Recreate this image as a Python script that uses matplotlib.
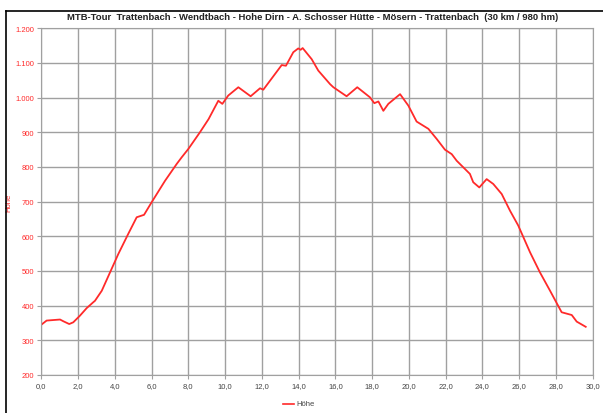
import matplotlib
matplotlib.use("Agg")
import matplotlib.pyplot as plt
from matplotlib.lines import Line2D
from matplotlib.ticker import FuncFormatter, MultipleLocator

# distance (km) and elevation (m)
km = [0.0, 0.29, 1.02, 1.2, 1.52, 1.74, 2.1, 2.47, 2.83, 2.92, 3.29, 3.74,
      4.19, 4.73, 5.19, 5.59, 6.0, 6.73, 7.37, 7.64, 8.0, 8.63, 9.1, 9.63,
      9.85, 10.17, 10.72, 11.39, 11.9, 12.08, 13.08, 13.31, 13.71, 13.98,
      14.11, 14.22, 14.71, 15.07, 15.71, 15.89, 16.61, 17.19, 17.88, 18.12,
      18.34, 18.61, 18.88, 19.52, 19.97, 20.42, 21.06, 21.51, 21.96, 22.33,
      22.6, 22.96, 23.32, 23.5, 23.83, 24.23, 24.59, 25.05, 25.5, 25.95,
      26.59, 27.13, 27.68, 28.31, 28.86, 29.13, 29.62]
hoehe = [345, 357, 360, 355, 347, 352, 371, 393, 410, 414, 443, 496,
         549, 607, 655, 662, 698, 760, 809, 828, 852, 900, 938, 991,
         982, 1006, 1030, 1004, 1027, 1023, 1094, 1092, 1131, 1142,
         1138, 1143, 1111, 1078, 1039, 1030, 1004, 1030, 1001, 984,
         989, 962, 982, 1010, 977, 931, 910, 881, 850, 837,
         818, 799, 780, 756, 741, 765, 751, 722, 674, 631,
         554, 496, 443, 381, 373, 354, 339]

title = "MTB-Tour  Trattenbach - Wendtbach - Hohe Dirn - A. Schosser Hütte - Mösern - Trattenbach  (30 km / 980 hm)"
RED = "#ff2a2a"
GRID = "#a0a0a0"
plt.rcParams["font.family"] = ["Liberation Sans", "DejaVu Sans"]

fig = plt.figure(figsize=(6.03, 4.14), dpi=100)
ax = fig.add_axes([41.3 / 603, 38 / 414, 551.4 / 603, 346.7 / 414])

ax.plot(km, hoehe, color=RED, lw=1.3)
ax.set_xlim(0, 30)
ax.set_ylim(200, 1200)
ax.xaxis.set_major_locator(MultipleLocator(2))
ax.yaxis.set_major_locator(MultipleLocator(100))
ax.xaxis.set_major_formatter(FuncFormatter(lambda v, p: f"{v:.1f}".replace(".", ",")))
ax.yaxis.set_major_formatter(FuncFormatter(lambda v, p: f"{int(v):,}".replace(",", ".")))
ax.grid(True, color=GRID, lw=1.0)
for s in ax.spines.values():
    s.set_color(GRID)
ax.tick_params(axis="both", length=3, color=GRID, labelsize=5.5, pad=2)
ax.tick_params(axis="y", labelcolor=RED)
ax.tick_params(axis="x", labelcolor="#444444")
ax.set_ylabel("Höhe", color=RED, fontsize=5.5)
ax.yaxis.set_label_coords(-0.053, 0.5)

fig.text(313 / 603, 1 - 17 / 414, title, ha="center", va="center", fontsize=6.8,
         fontweight="bold", color="#222222")

# chart frame lines (top and left)
fig.add_artist(Line2D([6 / 603, 1], [1 - 11.5 / 414] * 2, color="black", lw=1.2))
fig.add_artist(Line2D([6 / 603] * 2, [0, 1 - 11.5 / 414], color="black", lw=1.2))

# legend at the bottom
fig.add_artist(Line2D([283 / 603, 294 / 603], [1 - 405 / 414] * 2, color=RED, lw=1.2))
fig.text(296 / 603, 1 - 405 / 414, "Höhe", fontsize=5.5, va="center", color="#444444")

fig.savefig("out.png", dpi=100)
